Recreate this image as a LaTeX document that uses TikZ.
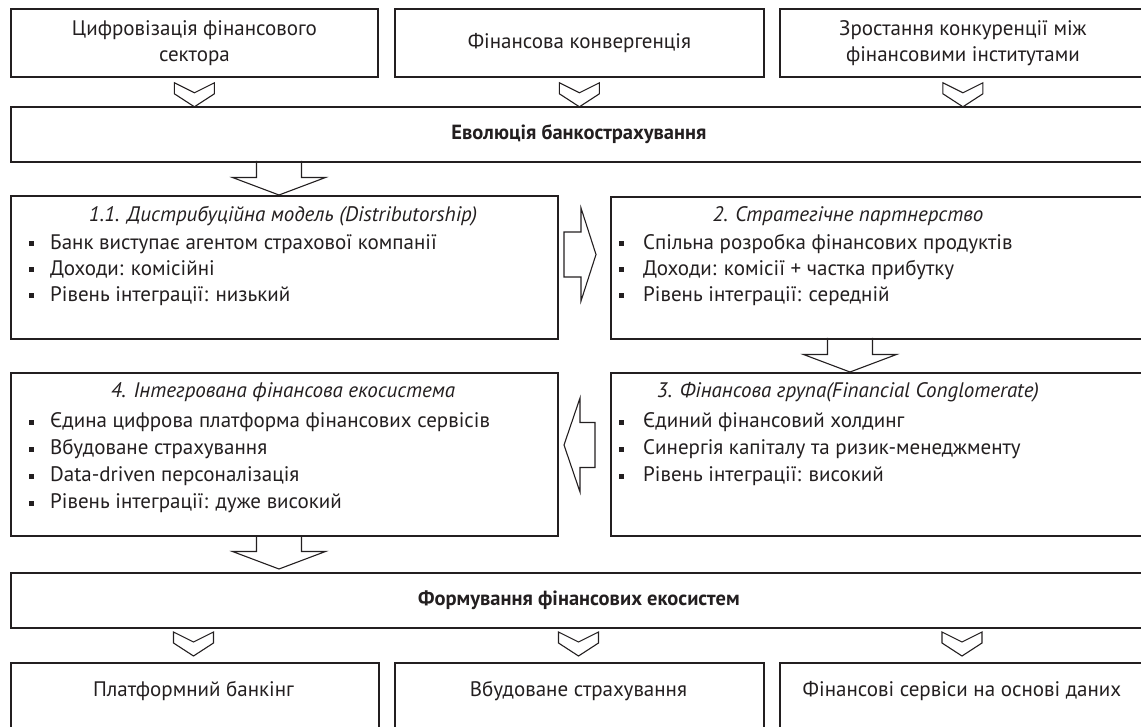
\documentclass[tikz,border=0pt]{standalone}
\usepackage{fontspec}
\setmainfont{PT Sans}
\definecolor{linec}{HTML}{231F20}
\definecolor{txt}{HTML}{231F20}
\begin{document}
\begin{tikzpicture}[x=1pt,y=-1pt,
  box/.style={draw=linec, line width=1.8pt, rectangle, inner sep=0pt, anchor=north west},
  aline/.style={draw=linec, line width=1.1pt, line join=miter},
  reg/.style={font=\fontsize{21}{26}\selectfont, text=txt, inner sep=0pt},
  ital/.style={font=\fontsize{21}{26}\selectfont\itshape, text=txt, inner sep=0pt, anchor=base},
  bld/.style={font=\fontsize{20.5}{24}\selectfont\bfseries, text=txt, inner sep=0pt},
  bul/.style={fill=txt, rectangle, minimum width=5pt, minimum height=5pt, inner sep=0pt},
  row/.style={reg, anchor=base west},
  chev/.pic={\draw[aline] (-20,0)--(0,10)--(20,0)--(20,11)--(0,24)--(-20,11)--cycle;},
  downarr/.pic={\draw[aline] (-22.5,0)--(-22.5,16.5)--(-46.5,16.5)--(0,34)--(46.5,16.5)--(22.5,16.5)--(22.5,0);},
  rightarr/.pic={\draw[aline] (0,-22.5)--(17,-22.5)--(17,-46.5)--(32,0)--(17,46.5)--(17,22.5)--(0,22.5)--cycle;},
  leftarr/.pic={\draw[aline] (0,0)--(16,-47)--(16,-22.5)--(31,-22.5)--(31,22.5)--(16,22.5)--(16,47)--cycle;}
]
\path[use as bounding box] (0,0) rectangle (1141,727);
\clip (0,0) rectangle (1141,727);

% top row
\node[box, minimum width=367pt, minimum height=68pt, align=center, reg] (t1) at (10,8) {Цифровізація фінансового\\сектора};
\node[box, minimum width=369pt, minimum height=68pt, align=center, reg] (t2) at (394,8) {Фінансова конвергенція};
\node[box, minimum width=366pt, minimum height=68pt, align=center, reg] (t3) at (779,8) {Зростання конкуренції між\\фінансовими інститутами};

\pic at ([yshift=-5pt]t1.south) {chev};
\pic at ([yshift=-5pt]t2.south) {chev};
\pic at ([yshift=-5pt]t3.south) {chev};

% evolution
\node[box, minimum width=1136pt, minimum height=55pt, bld] (evo) at (10,106) {Еволюція банкострахування};

\coordinate (a1) at (279,161);
\pic at (a1) {downarr};

% box 1.1
\node[box, minimum width=547pt, minimum height=143pt] (m11) at (10,195) {};
\node[ital] (m11t) at (283,222) {1.1. Дистрибуційна модель (Distributorship)};
\node[bul] (m11b1) at (31,244) {};
\node[bul] (m11b2) at (31,270) {};
\node[bul] (m11b3) at (31,296) {};
\node[row] (m11r1) at (50,249.5) {Банк виступає агентом страхової компанії};
\node[row] (m11r2) at (50,275.5) {Доходи: комісійні};
\node[row] (m11r3) at (50,301.5) {Рівень інтеграції: низький};

% arrow right
\coordinate (a2) at (564,254.5);
\pic at (a2) {rightarr};

% box 2
\node[box, minimum width=560pt, minimum height=142pt] (m2) at (610,196) {};
\node[ital] (m2t) at (848,222) {2. Стратегічне партнерство};
\node[bul] (m2b1) at (621,244) {};
\node[bul] (m2b2) at (621,270) {};
\node[bul] (m2b3) at (621,296) {};
\node[row] (m2r1) at (643,249.5) {Спільна розробка фінансових продуктів};
\node[row] (m2r2) at (643,275.5) {Доходи: комісії + частка прибутку};
\node[row] (m2r3) at (643,301.5) {Рівень інтеграції: середній};

\coordinate (a3) at (850,338);
\pic at (a3) {downarr};

% box 3
\node[box, minimum width=560pt, minimum height=163pt] (m3) at (610,372) {};
\node[ital] (m3t) at (848,398) {3. Фінансова група(Financial Conglomerate)};
\node[bul] (m3b1) at (621,422) {};
\node[bul] (m3b2) at (621,449) {};
\node[bul] (m3b3) at (621,476) {};
\node[row] (m3r1) at (643,427.5) {Єдиний фінансовий холдинг};
\node[row] (m3r2) at (643,454.5) {Синергія капіталу та ризик-менеджменту};
\node[row] (m3r3) at (643,481.5) {Рівень інтеграції: високий};

% arrow left
\coordinate (a4) at (564,445);
\pic at (a4) {leftarr};

% box 4
\node[box, minimum width=547pt, minimum height=163pt] (m4) at (10,372) {};
\node[ital] (m4t) at (283,398) {4. Інтегрована фінансова екосистема};
\node[bul] (m4b1) at (31,422) {};
\node[bul] (m4b2) at (31,449) {};
\node[bul] (m4b3) at (31,476) {};
\node[bul] (m4b4) at (31,503) {};
\node[row] (m4r1) at (50,427.5) {Єдина цифрова платформа фінансових сервісів};
\node[row] (m4r2) at (50,454.5) {Вбудоване страхування};
\node[row] (m4r3) at (50,481.5) {Data-driven персоналізація};
\node[row] (m4r4) at (50,508.5) {Рівень інтеграції: дуже високий};

\coordinate (a5) at (279,535);
\pic at (a5) {downarr};

% formation
\node[box, minimum width=1136pt, minimum height=55pt, bld] (form) at (10,572) {Формування фінансових екосистем};

\pic at (193.5,632) {chev};
\pic at (578.5,632) {chev};
\pic at (962,632) {chev};

% bottom row
\node[box, minimum width=368pt, minimum height=90pt] (b1) at (10,662) {};
\node[box, minimum width=369pt, minimum height=90pt] (b2) at (394,662) {};
\node[box, minimum width=367pt, minimum height=90pt] (b3) at (779,662) {};
\node[reg, anchor=base] (b1t) at (193.5,696) {Платформний банкінг};
\node[reg, anchor=base] (b2t) at (578.5,696) {Вбудоване страхування};
\node[reg, anchor=base] (b3t) at (962,696) {Фінансові сервіси на основі даних};
\end{tikzpicture}
\end{document}
